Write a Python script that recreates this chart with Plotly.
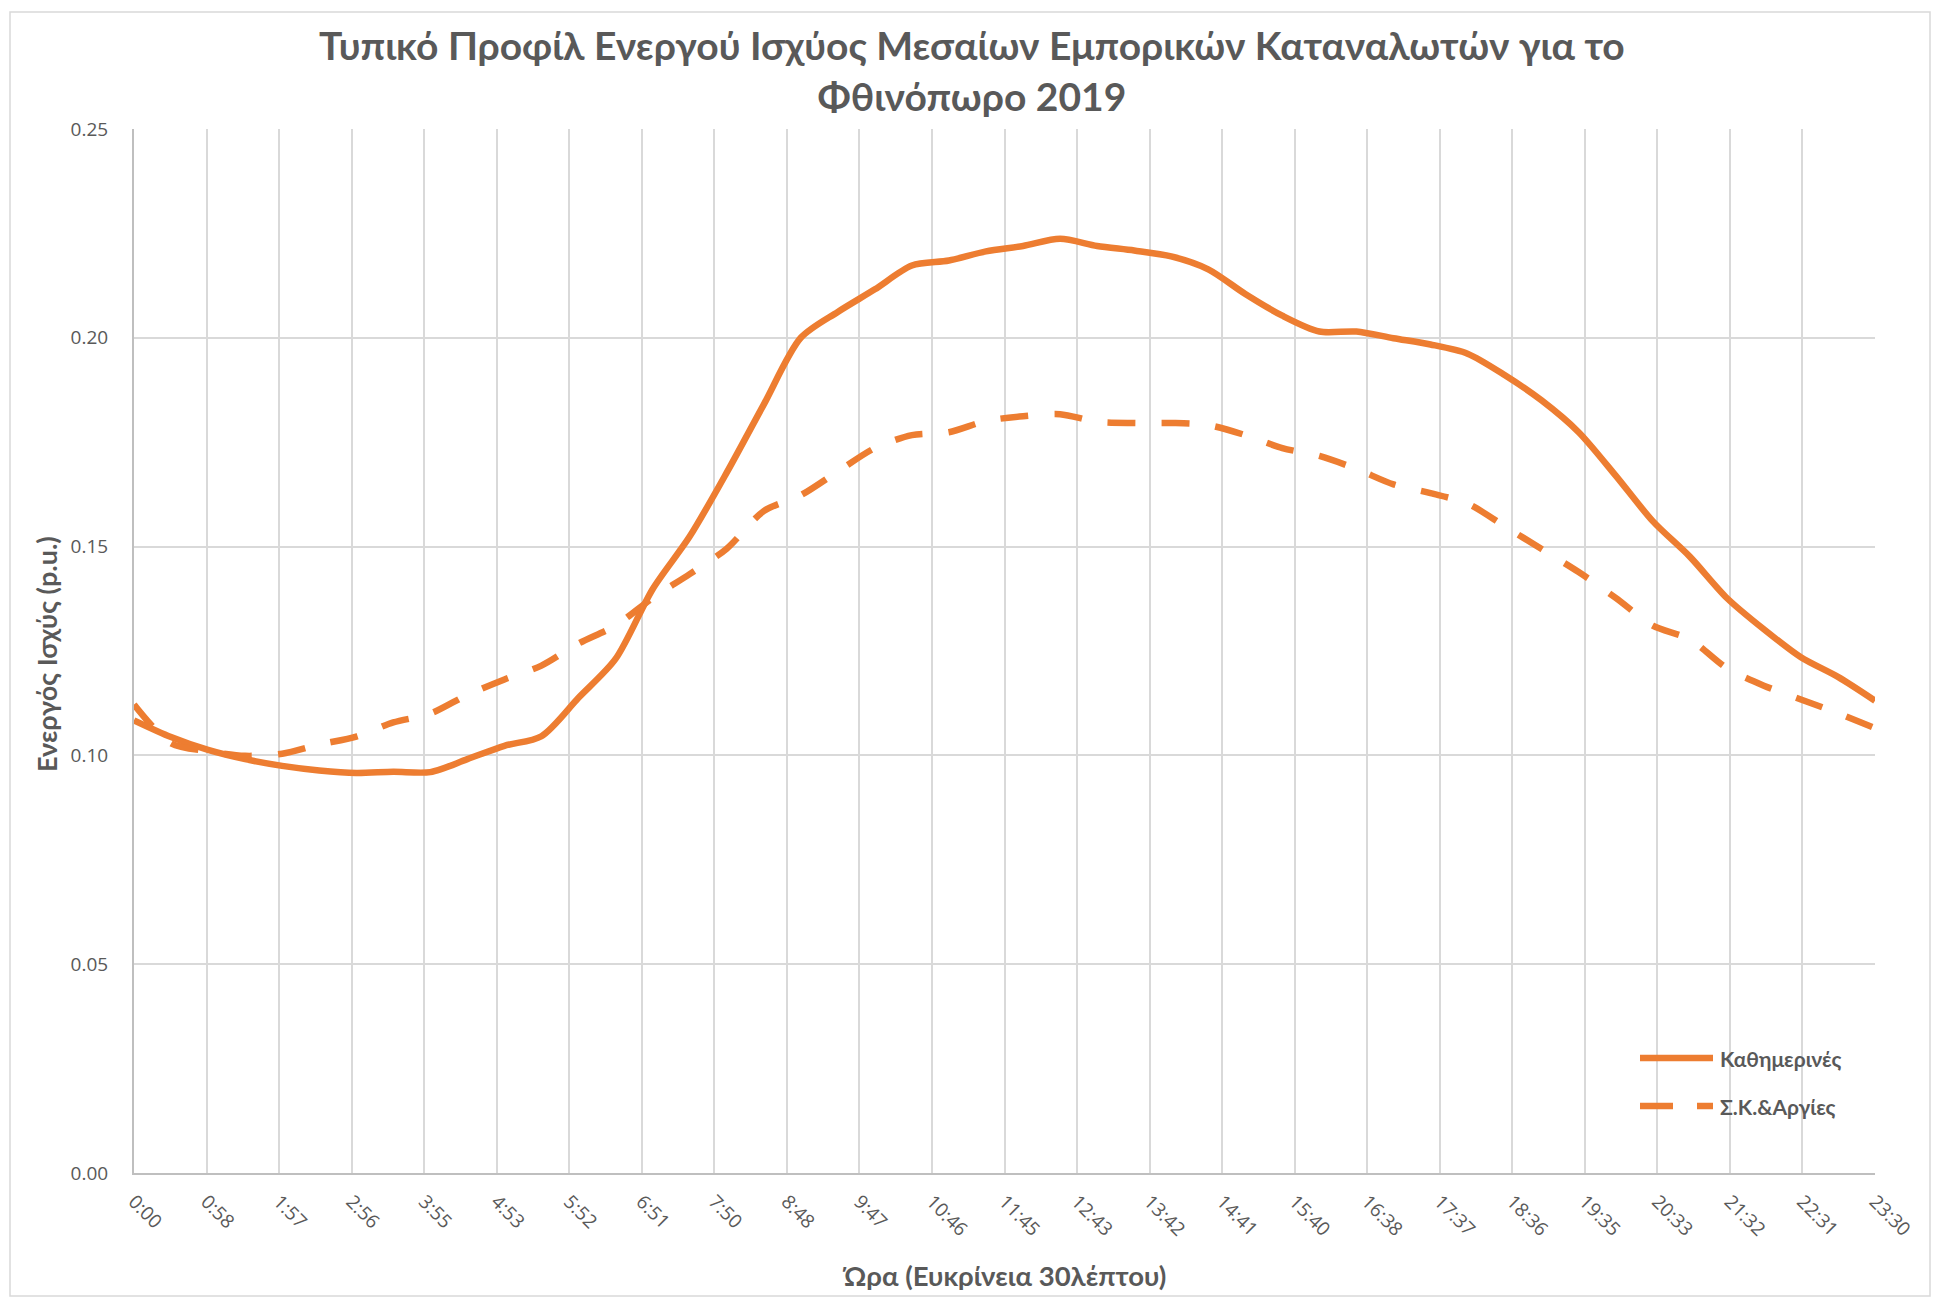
import plotly.graph_objects as go

# Half-hourly time stamps (minutes after midnight)
minutes = [30 * i for i in range(48)]

# Typical active-power profile, weekdays (p.u.)
weekdays = [
    0.1084, 0.1044, 0.1013, 0.0991, 0.0975, 0.0964, 0.0958, 0.0961,
    0.0960, 0.0991, 0.1023, 0.1046, 0.1138, 0.1231, 0.1398, 0.1524,
    0.1677, 0.1840, 0.2000, 0.2062, 0.2116, 0.2173, 0.2185, 0.2207,
    0.2220, 0.2237, 0.2220, 0.2209, 0.2195, 0.2164, 0.2105, 0.2053,
    0.2015, 0.2015, 0.1999, 0.1984, 0.1962, 0.1911, 0.1850, 0.1774,
    0.1670, 0.1561, 0.1476, 0.1377, 0.1302, 0.1235, 0.1188, 0.1131,
]

# Typical active-power profile, weekends & holidays (p.u.)
weekends = [
    0.1122, 0.1029, 0.1010, 0.0999, 0.1004, 0.1026, 0.1045, 0.1079,
    0.1100, 0.1145, 0.1182, 0.1215, 0.1268, 0.1311, 0.1377, 0.1434,
    0.1495, 0.1585, 0.1623, 0.1680, 0.1736, 0.1767, 0.1774, 0.1801,
    0.1812, 0.1817, 0.1799, 0.1796, 0.1796, 0.1791, 0.1767, 0.1736,
    0.1717, 0.1686, 0.1649, 0.1628, 0.1603, 0.1549, 0.1494, 0.1439,
    0.1377, 0.1311, 0.1278, 0.1209, 0.1167, 0.1134, 0.1101, 0.1065,
]

# Time labels of the horizontal axis
tick_labels = [
    "0:00", "0:58", "1:57", "2:56", "3:55", "4:53", "5:52", "6:51", "7:50",
    "8:48", "9:47", "10:46", "11:45", "12:43", "13:42", "14:41", "15:40",
    "16:38", "17:37", "18:36", "19:35", "20:33", "21:32", "22:31", "23:30",
]
tick_step = 1410 / (len(tick_labels) - 1)
tick_vals = [i * tick_step for i in range(len(tick_labels))]

series_names = ["Καθημερινές", "Σ.Κ.&Αργίες"]
series_dash = ["solid", "28px,26px"]

ORANGE = "#ED7D31"
TEXT = "#595959"
GRID = "#D9D9D9"
AXIS = "#BFBFBF"
FONT = "Lato, 'Open Sans', sans-serif"
TICKFONT = "'Open Sans', sans-serif"

W, H = 1945, 1299
L, R, T, B = 134, 70, 129, 126
pw, ph = W - L - R, H - T - B


def px_x(x):
    return (x - L) / pw


def px_y(y):
    return (H - B - y) / ph


fig = go.Figure()
for name, values, dash in zip(series_names, [weekdays, weekends], series_dash):
    fig.add_trace(go.Scatter(
        x=minutes, y=values, name=name, mode="lines",
        line=dict(color=ORANGE, width=6.5, shape="spline", smoothing=0.8, dash=dash),
        showlegend=False,
    ))

fig.update_layout(
    width=W, height=H,
    margin=dict(l=L, r=R, t=T, b=B),
    paper_bgcolor="white", plot_bgcolor="white",
    xaxis=dict(
        range=[0, 1410], tickmode="array", tickvals=tick_vals, ticktext=tick_labels,
        tickangle=45, showgrid=True, gridcolor=GRID, gridwidth=1.5,
        showline=True, linecolor=AXIS, linewidth=2, zeroline=False,
        ticks="", ticklabelstandoff=8,
        tickfont=dict(family=TICKFONT, size=19, color=TEXT),
    ),
    yaxis=dict(
        range=[0, 0.25], tickmode="array", tickvals=[0, 0.05, 0.10, 0.15, 0.20, 0.25],
        tickformat=".2f", showgrid=True, gridcolor=GRID, gridwidth=1.5,
        showline=True, linecolor=AXIS, linewidth=2, zeroline=False,
        ticks="", ticklabelstandoff=20,
        tickfont=dict(family=TICKFONT, size=19, color=TEXT),
    ),
)

# Two-line chart title
fig.add_annotation(
    text="<b>Τυπικό Προφίλ Ενεργού Ισχύος Μεσαίων Εμπορικών Καταναλωτών για το<br>Φθινόπωρο 2019</b>",
    xref="paper", yref="paper", x=px_x(972), y=px_y(70),
    xanchor="center", yanchor="middle", showarrow=False, align="center",
    font=dict(family=FONT, size=39, color=TEXT),
)

# Axis titles
fig.add_annotation(
    text="<b>Ενεργός Ισχύς (p.u.)</b>", textangle=-90,
    xref="paper", yref="paper", x=px_x(46), y=px_y(654),
    xanchor="center", yanchor="middle", showarrow=False,
    font=dict(family=FONT, size=27, color=TEXT),
)
fig.add_annotation(
    text="<b>Ώρα (Ευκρίνεια 30λέπτου)</b>",
    xref="paper", yref="paper", x=px_x(1004), y=px_y(1275),
    xanchor="center", yanchor="middle", showarrow=False,
    font=dict(family=FONT, size=27.5, color=TEXT),
)

# Legend: line samples with their series names
legend_rows = [1058, 1106]
for name, dash, row in zip(series_names, series_dash, legend_rows):
    fig.add_shape(
        type="line", xref="paper", yref="paper",
        x0=px_x(1640), x1=px_x(1713), y0=px_y(row), y1=px_y(row),
        line=dict(color=ORANGE, width=6.5, dash="solid" if dash == "solid" else "33px,24px"),
    )
    fig.add_annotation(
        text=f"<b>{name}</b>", xref="paper", yref="paper",
        x=px_x(1718), y=px_y(row), xanchor="left", yanchor="middle",
        showarrow=False, font=dict(family=FONT, size=21, color=TEXT),
    )

# Chart-area frame
fig.add_shape(
    type="rect", xref="paper", yref="paper",
    x0=px_x(10), x1=px_x(1930), y0=px_y(1296), y1=px_y(12),
    line=dict(color=GRID, width=1.5), layer="below",
)

fig.write_html("out.html")
